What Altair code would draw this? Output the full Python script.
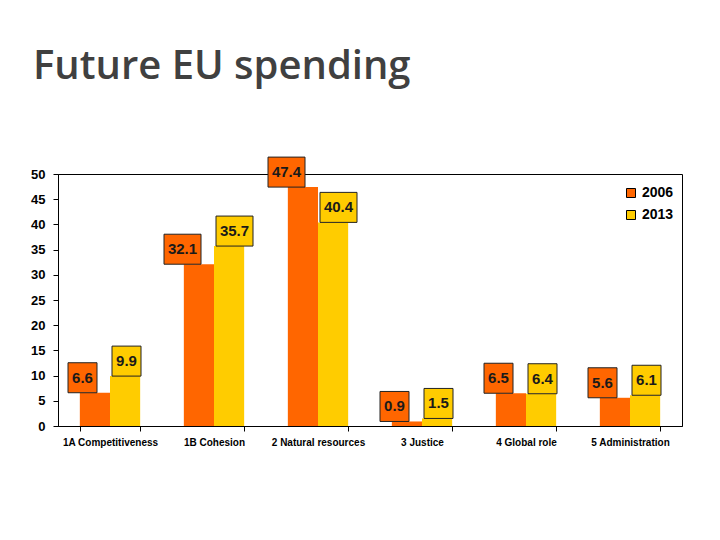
import altair as alt
import pandas as pd

categories = ["1A Competitiveness", "1B Cohesion", "2 Natural resources",
              "3 Justice", "4 Global role", "5 Administration"]
years = ["2006", "2013"]
v2006 = [6.6, 32.1, 47.4, 0.9, 6.5, 5.6]
v2013 = [9.9, 35.7, 40.4, 1.5, 6.4, 6.1]
y_ticks = [0, 5, 10, 15, 20, 25, 30, 35, 40, 45, 50]
colors = ["#FF6600", "#FFCC00"]
title_text = "Future EU spending"

rows = []
for c, a, b in zip(categories, v2006, v2013):
    for y, v in zip(years, (a, b)):
        lab = f"{v:.1f}"
        rows.append({"category": c, "year": y, "value": v, "label": lab,
                     "wide": len(lab) > 3})
df = pd.DataFrame(rows)

W, H = 624, 252
BOX_H_UNITS = 30 * 50 / H  # label box height (30 px) in data units

xscale = alt.Scale(paddingInner=0.42, paddingOuter=0.21)
xaxis = alt.Axis(labelAngle=0, labelFont="Liberation Sans",
                 labelFontSize=10, labelFontWeight="bold",
                 labelColor="black", tickBand="extent",
                 tickSize=5, tickColor="black", domainColor="black",
                 labelPadding=6, title=None)
yscale = alt.Scale(domain=[0, 50], nice=False)
yaxis = alt.Axis(values=y_ticks, grid=False, labelOverlap=False,
                 labelFont="Liberation Sans", labelFontSize=13,
                 labelFontWeight="bold", labelColor="black",
                 tickSize=5, tickColor="black", domainColor="black",
                 labelPadding=8, title=None)
xoff = alt.XOffset("year:N", sort=years, scale=alt.Scale(paddingInner=0, paddingOuter=0))

base = alt.Chart(df)

bars = base.mark_bar().encode(
    x=alt.X("category:N", sort=categories, scale=xscale, axis=xaxis),
    xOffset=xoff,
    y=alt.Y("value:Q", scale=yscale, axis=yaxis),
    color=alt.Color("year:N", sort=years,
                    scale=alt.Scale(domain=years, range=colors),
                    legend=alt.Legend(orient="none", legendX=566, legendY=12,
                                      title=None, labelFont="Liberation Sans",
                                      labelFontSize=14, labelFontWeight="bold",
                                      labelColor="black", symbolType="square",
                                      symbolSize=81, symbolStrokeColor="black",
                                      symbolStrokeWidth=1, symbolOpacity=1,
                                      rowPadding=8, labelOffset=4)),
)

layers = [bars]
for yi, (yr, col) in enumerate(zip(years, colors)):
    for wide in (False, True):
        w = 37 if wide else 29
        if yi == 0:
            off = -15 + 2 - w / 2
        else:
            off = 15 - 13 + w / 2
        sub = base.transform_filter(
            (alt.datum.year == yr) & (alt.datum.wide == wide)
        ).transform_calculate(
            top=f"datum.value + {BOX_H_UNITS}",
            mid=f"datum.value + {BOX_H_UNITS / 2}",
        )
        box = sub.mark_bar(width=w, xOffset=off, stroke="#222222",
                           strokeWidth=1, fill=col).encode(
            x=alt.X("category:N", sort=categories, scale=xscale, axis=xaxis),
            y=alt.Y("value:Q", scale=yscale, axis=yaxis), y2="top:Q",
        )
        txt = sub.mark_text(xOffset=off, baseline="middle", align="center",
                            font="Liberation Sans", fontSize=15,
                            fontWeight="bold", color="#1a1a1a").encode(
            x=alt.X("category:N", sort=categories, scale=xscale, axis=xaxis),
            y=alt.Y("mid:Q", scale=yscale, axis=yaxis), text="label:N",
        )
        layers += [box, txt]

title_df = pd.DataFrame({"t": [title_text]})
title_main = alt.Chart(title_df).mark_text(
    align="left", baseline="alphabetic", font="Open Sans", fontSize=40,
    fontWeight=600, color="#404040",
).encode(x=alt.value(-25), y=alt.value(-95), text="t:N")

chart = alt.layer(*layers, title_main).properties(
    width=W, height=H,
    background="white",
    autosize=alt.AutoSizeParams(type="none"),
    padding={"left": 50, "top": 166, "right": 30, "bottom": 100},
).configure_view(stroke="black", strokeWidth=1)

chart.save("out.html", embed_options={"renderer": "svg", "actions": False})
